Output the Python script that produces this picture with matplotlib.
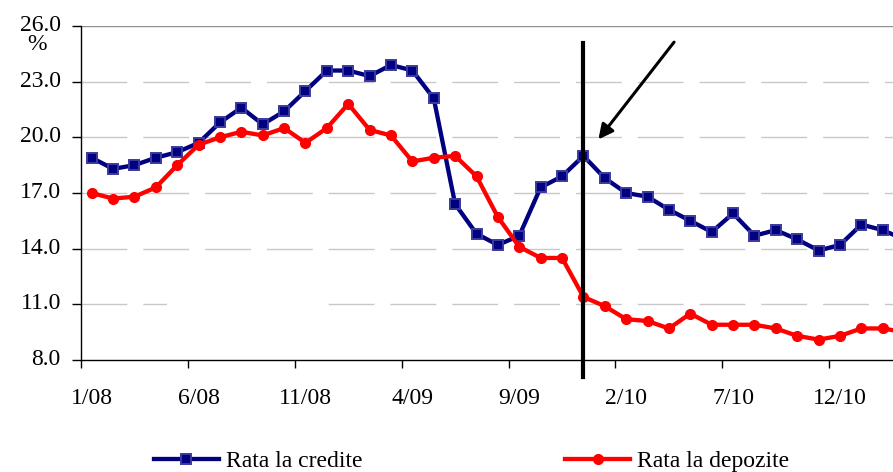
import matplotlib
matplotlib.use("Agg")
import matplotlib.pyplot as plt
import matplotlib.transforms as mtransforms
from matplotlib.patches import Rectangle
import numpy as np

plt.rcParams['font.family'] = ['Liberation Serif', 'DejaVu Serif']

# luni 1/08 .. 3/11 (ultima iese din cadru)
months = ['1/08', '2/08', '3/08', '4/08', '5/08', '6/08', '7/08', '8/08', '9/08', '10/08', '11/08', '12/08',
          '1/09', '2/09', '3/09', '4/09', '5/09', '6/09', '7/09', '8/09', '9/09', '10/09', '11/09', '12/09',
          '1/10', '2/10', '3/10', '4/10', '5/10', '6/10', '7/10', '8/10', '9/10', '10/10', '11/10', '12/10',
          '1/11', '2/11', '3/11']
rata_credite = [18.9, 18.3, 18.5, 18.9, 19.2, 19.7, 20.8, 21.6, 20.7, 21.4, 22.5, 23.6,
                23.6, 23.3, 23.9, 23.6, 22.1, 16.4, 14.8, 14.2, 14.7, 17.3, 17.9, 19.0,
                17.8, 17.0, 16.8, 16.1, 15.5, 14.9, 15.9, 14.7, 15.0, 14.5, 13.9, 14.2,
                15.3, 15.0, 14.5]
rata_depozite = [17.0, 16.7, 16.8, 17.3, 18.5, 19.6, 20.0, 20.3, 20.1, 20.5, 19.7, 20.5,
                 21.8, 20.4, 20.1, 18.7, 18.9, 19.0, 17.9, 15.7, 14.1, 13.5, 13.5, 11.4,
                 10.9, 10.2, 10.1, 9.7, 10.5, 9.9, 9.9, 9.9, 9.7, 9.3, 9.1, 9.3,
                 9.7, 9.7, 9.5]
yticks = [8.0, 11.0, 14.0, 17.0, 20.0, 23.0, 26.0]
label_every = 5
marker_month = '12/09'

x = np.arange(len(months))

fig = plt.figure(figsize=(8.93, 4.72), dpi=100)
ax = fig.add_axes([81 / 893, 1 - 360 / 472, 812 / 893, 334 / 472])

# grid
for v in yticks[1:-1]:
    ax.axhline(v, color='#c8c8c8', lw=1.0, ls=(0, (33, 11.5)), zorder=0.5)
ax.axhline(26.0, color='#909090', lw=1.0, zorder=0.5)
ax.add_patch(Rectangle((3.5, 10.7), 7.5, 0.6, facecolor='white', edgecolor='none', zorder=1))

ax.plot(x, rata_credite, color='#000080', lw=3.1, marker='s', ms=6.5,
        mfc='#000080', mec='#3a3a9e', mew=1.4, label='Rata la credite', zorder=3)
ax.plot(x, rata_depozite, color='#ff0000', lw=3.1, marker='o', ms=7.0,
        mfc='#ff0000', mec='#ff0000', label='Rata la depozite', zorder=3)

xm = months.index(marker_month)
ax.plot([xm, xm], [7.1, 25.1], color='black', lw=3.0, clip_on=False, zorder=4)
ax.annotate('', xy=(xm + 0.62, 19.77), xytext=(xm + 4.32, 25.25),
            arrowprops=dict(arrowstyle='-|>', color='black', lw=2.2, mutation_scale=22),
            zorder=5)

ax.set_xlim(-0.5, 37.48)
ax.set_ylim(8.0, 26.0)

ax.set_yticks(yticks)
ax.set_yticklabels(['%.1f' % v for v in yticks])
ax.tick_params(axis='y', direction='out', length=6.5, width=1, pad=8, labelsize=17)
shift = mtransforms.ScaledTranslation(0, 3 / 100, fig.dpi_scale_trans)
for lab in ax.get_yticklabels():
    lab.set_transform(lab.get_transform() + shift)

ax.set_xticks(np.arange(-0.5, len(months), label_every))
ax.set_xticklabels([])
ax.set_xticks(x[::label_every], minor=True)
ax.set_xticklabels(months[::label_every], minor=True)
ax.tick_params(axis='x', which='major', direction='out', length=6, width=1)
ax.tick_params(axis='x', which='minor', length=0, pad=20, labelsize=17)

ax.spines['top'].set_visible(False)
ax.spines['right'].set_visible(False)
for s in ['left', 'bottom']:
    ax.spines[s].set_linewidth(1.0)

fig.text(37.5 / 893, 1 - 45 / 472, '%', ha='center', va='center', fontsize=17)

fig.legend(loc='center', bbox_to_anchor=(0.528, 0.022), ncol=2, frameon=False,
           fontsize=17, handlelength=2.75, handletextpad=0.3, columnspacing=8.6,
           numpoints=1)

fig.savefig('out.png', dpi=100)
